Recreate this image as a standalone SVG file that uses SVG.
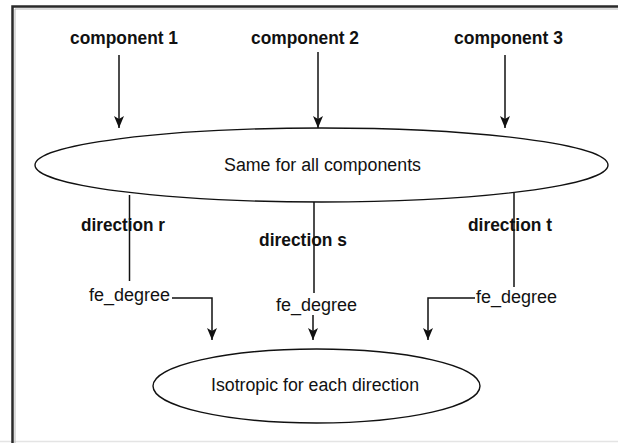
<svg xmlns="http://www.w3.org/2000/svg" width="618" height="443" viewBox="0 0 618 443">
  <style>
    .frame { fill: none; stroke: #2a2a2a; stroke-width: 2.5; }
    .node { fill: #ffffff; stroke: #111111; stroke-width: 1.4; }
    .edge { fill: none; stroke: #111111; stroke-width: 1.5; }
    .lbl { font-family: "Liberation Sans", Arial, sans-serif; font-size: 18px; fill: #111111; text-anchor: start; }
    .bold { font-weight: bold; }
  </style>
  <defs>
    <marker id="tip" viewBox="-5 -12 10 12" refX="0" refY="0" markerWidth="10" markerHeight="12" markerUnits="userSpaceOnUse" orient="0">
      <path d="M-5,-12 L0,-9 L5,-12 L0,0 Z" fill="#111111"/>
    </marker>
  </defs>

  <rect x="0" y="0" width="618" height="443" fill="#ffffff"/>
  <!-- page frame -->
  <line x1="0" y1="441.5" x2="618" y2="441.5" stroke="#e4e4e4" stroke-width="1.5"/>
  <path class="frame" d="M12.5,443 V6.5 H618"/>
  <path d="M15,443 V9 H618" fill="none" stroke="#b8b8b8" stroke-width="1"/>

  <!-- connectors -->
  <g id="connectors">
    <line class="edge" x1="119" y1="55" x2="119" y2="128" marker-end="url(#tip)"/>
    <line class="edge" x1="318" y1="52" x2="318" y2="128" marker-end="url(#tip)"/>
    <line class="edge" x1="505" y1="55" x2="505" y2="128" marker-end="url(#tip)"/>
    <line class="edge" x1="129.5" y1="195" x2="129.5" y2="281"/>
    <line class="edge" x1="314" y1="202" x2="314" y2="293"/>
    <line class="edge" x1="514" y1="193" x2="514" y2="287"/>
    <path class="edge" d="M172,298 H212 V340" marker-end="url(#tip)"/>
    <path class="edge" d="M313,315 V340" marker-end="url(#tip)"/>
    <path class="edge" d="M475,298 H428 V340" marker-end="url(#tip)"/>
  </g>

  <!-- source labels -->
  <g id="component1"><text class="lbl bold" x="70" y="44" textLength="108" lengthAdjust="spacingAndGlyphs">component 1</text></g>
  <g id="component2"><text class="lbl bold" x="251" y="44" textLength="108" lengthAdjust="spacingAndGlyphs">component 2</text></g>
  <g id="component3"><text class="lbl bold" x="454" y="44" textLength="109" lengthAdjust="spacingAndGlyphs">component 3</text></g>

  <!-- shared ellipse -->
  <g id="same">
    <ellipse class="node" cx="321.5" cy="165" rx="286.5" ry="37"/>
    <text class="lbl" x="224" y="171" textLength="197" lengthAdjust="spacingAndGlyphs">Same for all components</text>
  </g>

  <!-- direction labels -->
  <g id="dir-r"><text class="lbl bold" x="81" y="231" textLength="84" lengthAdjust="spacingAndGlyphs">direction r</text></g>
  <g id="dir-s"><text class="lbl bold" x="259" y="246" textLength="88" lengthAdjust="spacingAndGlyphs">direction s</text></g>
  <g id="dir-t"><text class="lbl bold" x="468" y="231" textLength="84" lengthAdjust="spacingAndGlyphs">direction t</text></g>

  <!-- degree labels -->
  <g id="fe-r"><text class="lbl" x="89" y="301" textLength="81" lengthAdjust="spacingAndGlyphs">fe_degree</text></g>
  <g id="fe-s"><text class="lbl" x="276" y="311" textLength="81" lengthAdjust="spacingAndGlyphs">fe_degree</text></g>
  <g id="fe-t"><text class="lbl" x="476" y="303" textLength="81" lengthAdjust="spacingAndGlyphs">fe_degree</text></g>

  <!-- target ellipse -->
  <g id="isotropic">
    <ellipse class="node" cx="316.5" cy="386" rx="163.5" ry="37"/>
    <text class="lbl" x="211" y="391" textLength="208" lengthAdjust="spacingAndGlyphs">Isotropic for each direction</text>
  </g>
</svg>
